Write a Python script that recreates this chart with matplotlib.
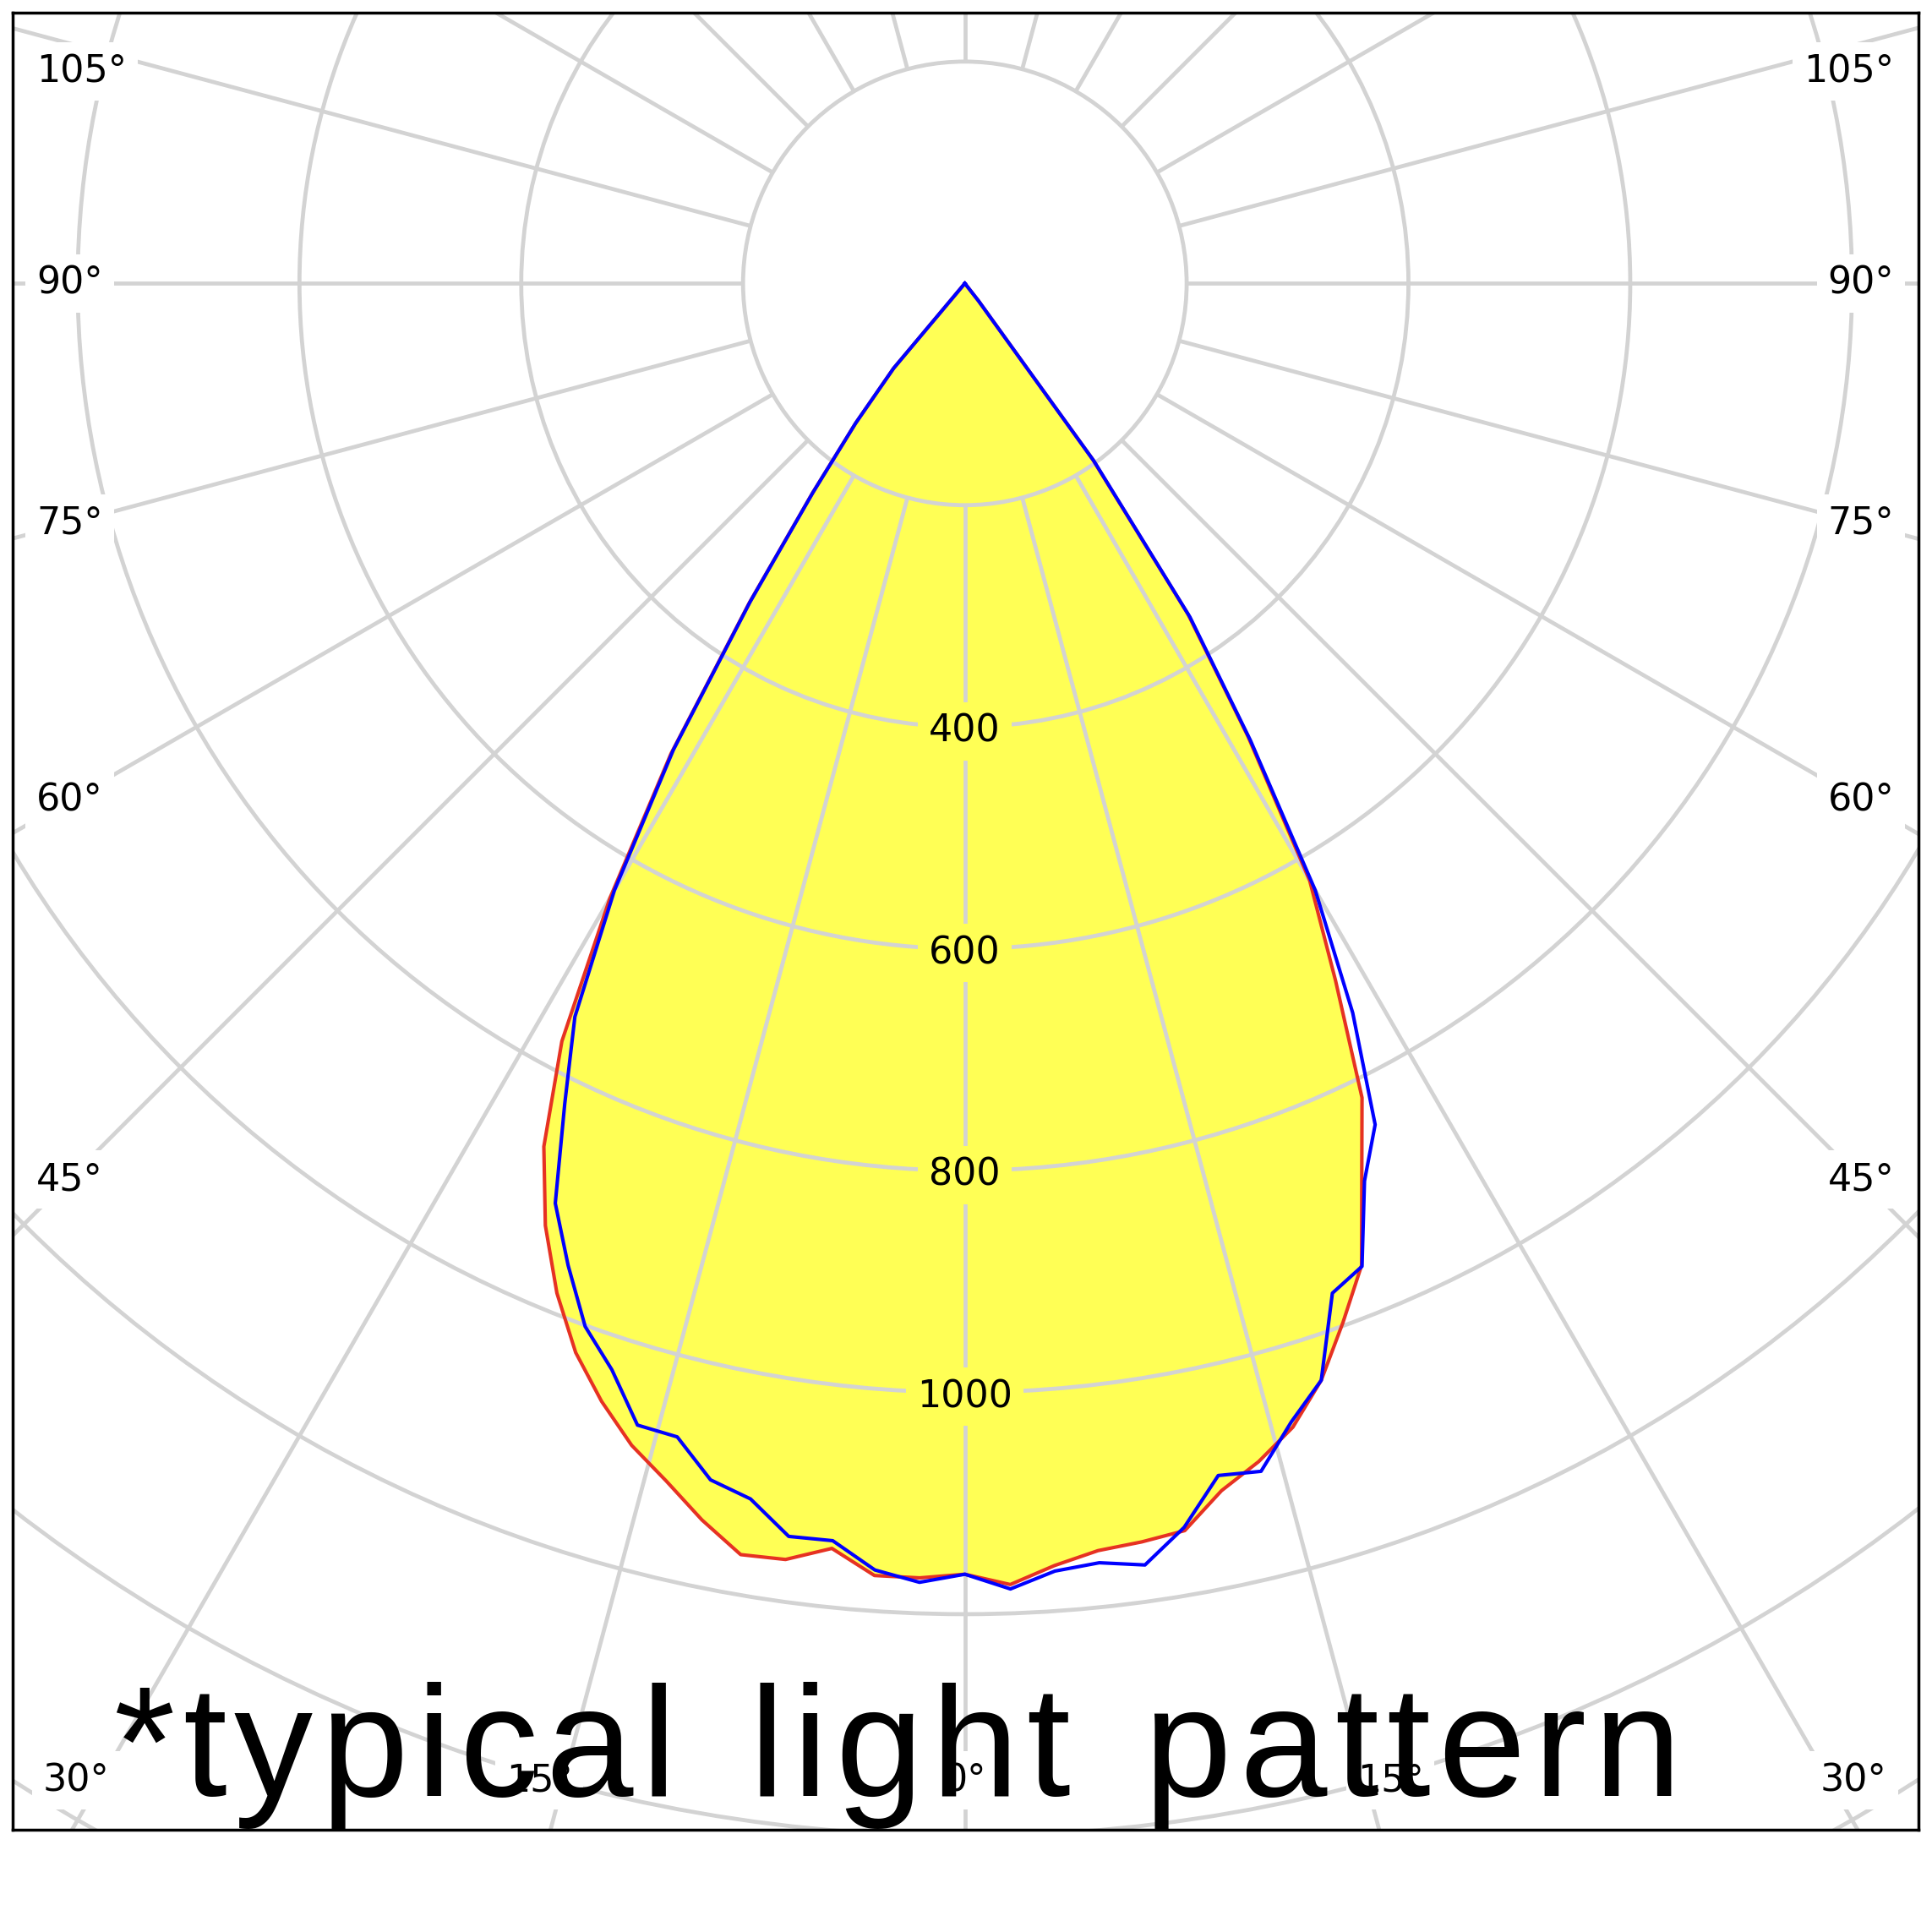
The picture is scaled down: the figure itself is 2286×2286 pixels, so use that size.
import numpy as np
import matplotlib
matplotlib.use('Agg')
import matplotlib.pyplot as plt
from matplotlib.patches import Circle
from matplotlib.font_manager import FontProperties

# luminous intensity (cd) every 2 deg from nadir
gamma = [0, 2, 4, 6, 8, 10, 12, 14, 16, 18, 20, 22, 24, 26, 28, 30, 32, 34, 36, 38, 40, 42, 44]
red_left = [1164, 1168, 1168, 1147, 1162, 1164, 1140, 1113, 1090, 1060, 1026, 982,
            930, 866, 774, 640, 500, 348, 234, 160, 100, 0, 0]
red_right = [1164, 1174, 1159, 1149, 1146, 1142, 1113, 1095, 1073, 1040, 997, 955,
             880, 817, 712, 622, 482, 360, 196, 20, 0, 0, 0]
blue_left = [1164, 1172, 1163, 1140, 1141, 1113, 1103, 1072, 1071, 1030, 1001, 955,
             908, 823, 749, 632, 496, 346, 233, 160, 100, 0, 0]
blue_right = [1164, 1178, 1164, 1160, 1167, 1139, 1099, 1104, 1068, 1040, 969, 956,
              886, 844, 745, 632, 486, 363, 198, 20, 0, 0, 0]

rings = [200, 400, 600, 800, 1000, 1200, 1400, 1600]
ring_labels = [400, 600, 800, 1000]
side_angles = [45, 60, 75, 90, 105]
bottom_angles = [30, 15]

grid_c = '#d3d3d3'
fill_c = '#ffff55'


def to_xy(left, right):
    g = np.radians(gamma)
    l = np.array(left, dtype=float)
    r = np.array(right, dtype=float)
    x = np.concatenate([(-l * np.sin(g))[::-1], (r * np.sin(g))[1:]])
    y = np.concatenate([(-l * np.cos(g))[::-1], (-r * np.cos(g))[1:]])
    return x, y


fig = plt.figure(figsize=(10, 10), dpi=228.6)
ax = fig.add_axes([0.00639, 0.05293, 0.98666, 0.94068])
ax.set_xlim(-858.9, 860.0)
ax.set_ylim(-1394.4, 244.4)
ax.set_xticks([])
ax.set_yticks([])
for s in ax.spines.values():
    s.set_linewidth(1.1)
    s.set_color('black')
    s.set_zorder(10)

rx, ry = to_xy(red_left, red_right)
bx, by = to_xy(blue_left, blue_right)

ax.fill(rx, ry, color=fill_c, lw=0, zorder=1)

# polar grid
for r in rings:
    ax.add_patch(Circle((0, 0), r, fill=False, ec=grid_c, lw=1.5, zorder=2))
for a in np.radians(np.arange(0, 360, 15)):
    ax.plot([200 * np.sin(a), 2000 * np.sin(a)], [-200 * np.cos(a), -2000 * np.cos(a)],
            color=grid_c, lw=1.5, zorder=2, solid_capstyle='butt')

for r in ring_labels:
    ax.text(0, -r - 4, str(r), ha='center', va='center', fontsize=14, zorder=3,
            bbox=dict(facecolor=fill_c, edgecolor='none', pad=4))

lbl = dict(fontsize=14, zorder=3, va='center',
           bbox=dict(facecolor='white', edgecolor='none', pad=4))
for a in side_angles:
    y = min(-808 / np.tan(np.radians(a)), 191)
    ax.text(-837, y, f'{a}°', ha='left', **lbl)
    ax.text(838, y, f'{a}°', ha='right', **lbl)
for a in bottom_angles:
    x = 1350 * np.tan(np.radians(a)) + 22
    ax.text(-x, -1350, f'{a}°', ha='center', **lbl)
    ax.text(x, -1350, f'{a}°', ha='center', **lbl)
ax.text(0, -1350, '0°', ha='center', **lbl)

ax.plot(rx, ry, color='#e63222', lw=1.3, zorder=4)
ax.plot(bx, by, color='#0000ff', lw=1.3, zorder=5)

# big caption with wide letter spacing
fp = FontProperties(family='Liberation Sans', size=58.6)
renderer = fig.canvas.get_renderer()
words = ['*typical', 'light', 'pattern']
W = fig.bbox.width
widths = []
for w in words:
    ws = []
    for ch in w:
        t = fig.text(0, 0, ch, fontproperties=fp)
        ws.append(t.get_window_extent(renderer).width)
        t.remove()
    widths.append(ws)
span = 1855.0
word_gap = 87.0
n_gaps = sum(len(w) - 1 for w in words)
track = (span - sum(sum(ws) for ws in widths) - word_gap * (len(words) - 1)) / n_gaps
x = 134.0
for w, ws in zip(words, widths):
    for ch, cw in zip(w, ws):
        fig.text(x / W, 0.0704, ch, fontproperties=fp, ha='left', va='baseline', zorder=20)
        x += cw + track
    x += word_gap - track

fig.savefig('out.png', dpi=228.6)
